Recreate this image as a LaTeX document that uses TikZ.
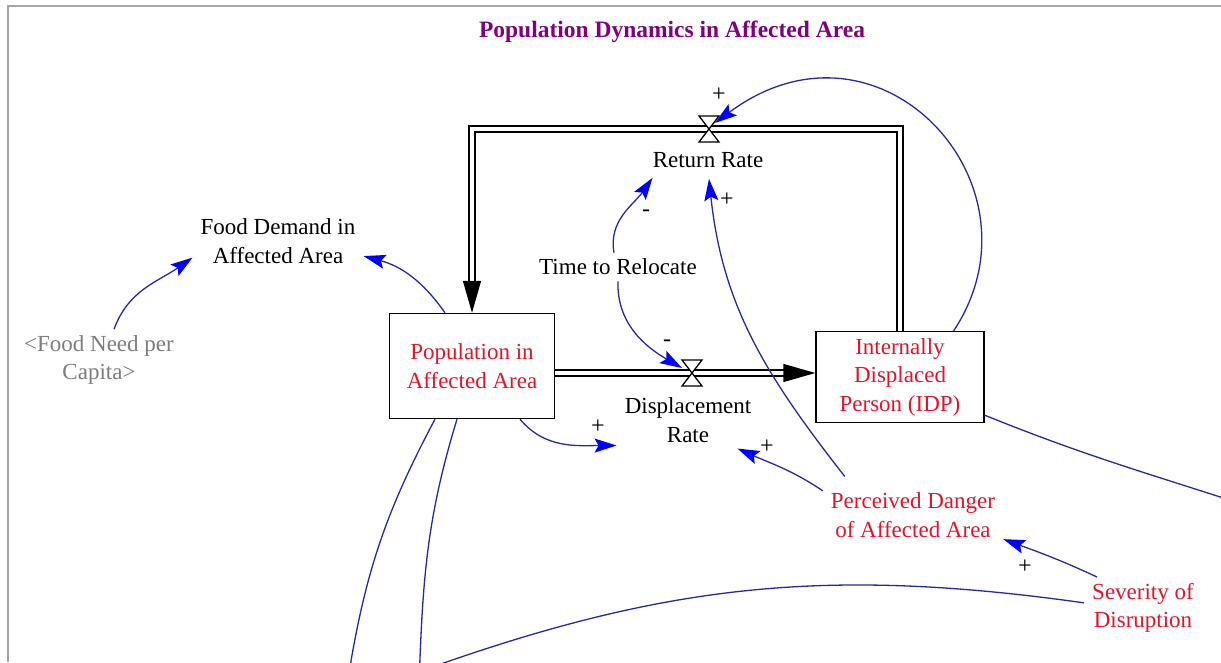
\documentclass[tikz,border=0pt]{standalone}
\usepackage{fontspec}
\setmainfont{Liberation Serif}
\usepackage{tikz}
\usetikzlibrary{arrows.meta, positioning, calc}
\usepackage{xcolor}
\definecolor{linkblue}{RGB}{40,40,165}
\definecolor{tipblue}{RGB}{0,0,255}
\definecolor{stockred}{RGB}{225,20,40}
\definecolor{shadowgray}{RGB}{125,125,125}
\definecolor{titlepurple}{RGB}{128,0,128}
\definecolor{framegray}{RGB}{165,165,165}

\begin{document}
\begin{tikzpicture}[
    x=1pt, y=1pt,
    font=\fontsize{23}{28.5}\selectfont,
    % Node styles
    stock/.style={rectangle, draw, line width=1.4pt, align=center, text=stockred},
    aux/.style={align=center, inner xsep=8pt, inner ysep=6pt},
    sign/.style={inner sep=0pt, font=\fontsize{24}{26}\selectfont},
    flowpipe/.style={double, double distance=4.5pt, line width=1.4pt, line join=miter},
    flowtip/.style={-{Triangle[length=32pt, width=18pt]}},
    link/.style={linkblue, line width=1.3pt, -{Stealth[length=22pt, width=14pt, inset=4pt, color=tipblue]}},
    linkline/.style={linkblue, line width=1.3pt},
    valve/.style={draw, fill=white, line width=1.3pt},
]
\useasboundingbox (0,0) rectangle (1221,-662);
\clip (0,0) rectangle (1221,-662);

% Frame
\draw[framegray, line width=2pt] (8,-662) -- (8,-6) -- (1221,-6);

% Title
\node[font=\fontsize{23.5}{28}\selectfont\bfseries, text=titlepurple] (title) at (672,-32) {Population Dynamics in Affected Area};

% ============================================================================
% STOCKS AND VARIABLES
% ============================================================================
\node[stock, minimum width=165pt, minimum height=105pt] (pop) at (472,-366) {Population in\\Affected Area};
\node[stock, minimum width=168pt, minimum height=91pt] (idp) at (900,-377) {Internally\\Displaced\\Person (IDP)};

\coordinate (rv) at (709,-129);
\coordinate (dv) at (692,-373);

\node[aux] (rr) at (708,-160) {Return Rate};
\node[aux] (ttr) at (618,-267) {Time to Relocate};
\node[aux] (fdemand) at (278,-241) {Food Demand in\\Affected Area};
\node[aux, text=shadowgray] (fneed) at (99,-360) {<Food Need per\\Capita>};
\node[aux] (dr) at (688,-420) {Displacement\\Rate};
\node[aux, text=stockred] (pd) at (913,-515) {Perceived Danger\\of Affected Area};
\node[aux, text=stockred] (sev) at (1143,-608) {Severity of\\Disruption};

% ============================================================================
% FLOWS
% ============================================================================
\draw[flowpipe] (idp.north) |- (rv);
\draw[flowpipe, flowtip] (rv) -| (pop.north);
\draw[flowpipe] (pop.east |- dv) -- (dv);
\draw[flowpipe, flowtip] (dv) -- (idp.west |- dv);

% Valves
\draw[valve, shift={(rv)}] (-10,13) -- (10,13) -- (-10,-13) -- (10,-13) -- cycle;
\draw[valve, shift={(dv)}] (-10,13) -- (10,13) -- (-10,-13) -- (10,-13) -- cycle;

% ============================================================================
% CAUSAL LINKS
% ============================================================================
\draw[link] (fneed.64) to[out=70, in=215] (fdemand.191);
\draw[link] ([xshift=-27pt]pop.north) to[out=125, in=-15] (fdemand.-10);
\draw[link] ([xshift=-4pt]ttr.north) to[out=100, in=235] ([xshift=8pt,yshift=-4pt]rr.south west);
\draw[link] (ttr.south) to[out=-92, in=150] ([shift={(-10pt,5pt)}]dv);
\draw[link] ([xshift=48pt]pop.south) to[out=-50, in=180] ([yshift=3pt]dr.south west);
\draw[link] (pd.165) to[out=146, in=-24] (dr.-30);
\draw[link] ([xshift=22pt,yshift=10pt]pd.north west) to[out=128, in=-84] ([xshift=1pt,yshift=-5pt]rr.south);
\draw[link] ([xshift=-46pt]sev.north) to[out=155, in=-20] (pd.-15);
\draw[link] ([xshift=-31pt]idp.north east) .. controls (1050,-185) and (880,0) .. ([shift={(6pt,6pt)}]rv);

% Links leaving the view
\coordinate (offA) at (347,-685);
\coordinate (offB) at (419,-685);
\coordinate (offC) at (410,-675);
\coordinate (offD) at (1245,-505);
\draw[linkline] ([xshift=-37pt]pop.south) to[out=242, in=81] (offA);
\draw[linkline] ([xshift=-15pt]pop.south) to[out=253, in=88] (offB);
\draw[linkline] (sev.175) to[out=172, in=20] (offC);
\draw[linkline] ([yshift=8pt]idp.south east) to[out=-22, in=162] (offD);

% Polarities
\node[sign] (pLoop) at (719,-95) {+};
\node[sign] (pDanger) at (727,-200) {+};
\node[sign] (mReturn) at (646,-213) {-};
\node[sign] (mDisp) at (667,-343) {-};
\node[sign] (pPop) at (598,-427) {+};
\node[sign] (pDisp) at (767,-447) {+};
\node[sign] (pSev) at (1025,-567) {+};

\end{tikzpicture}
\end{document}
